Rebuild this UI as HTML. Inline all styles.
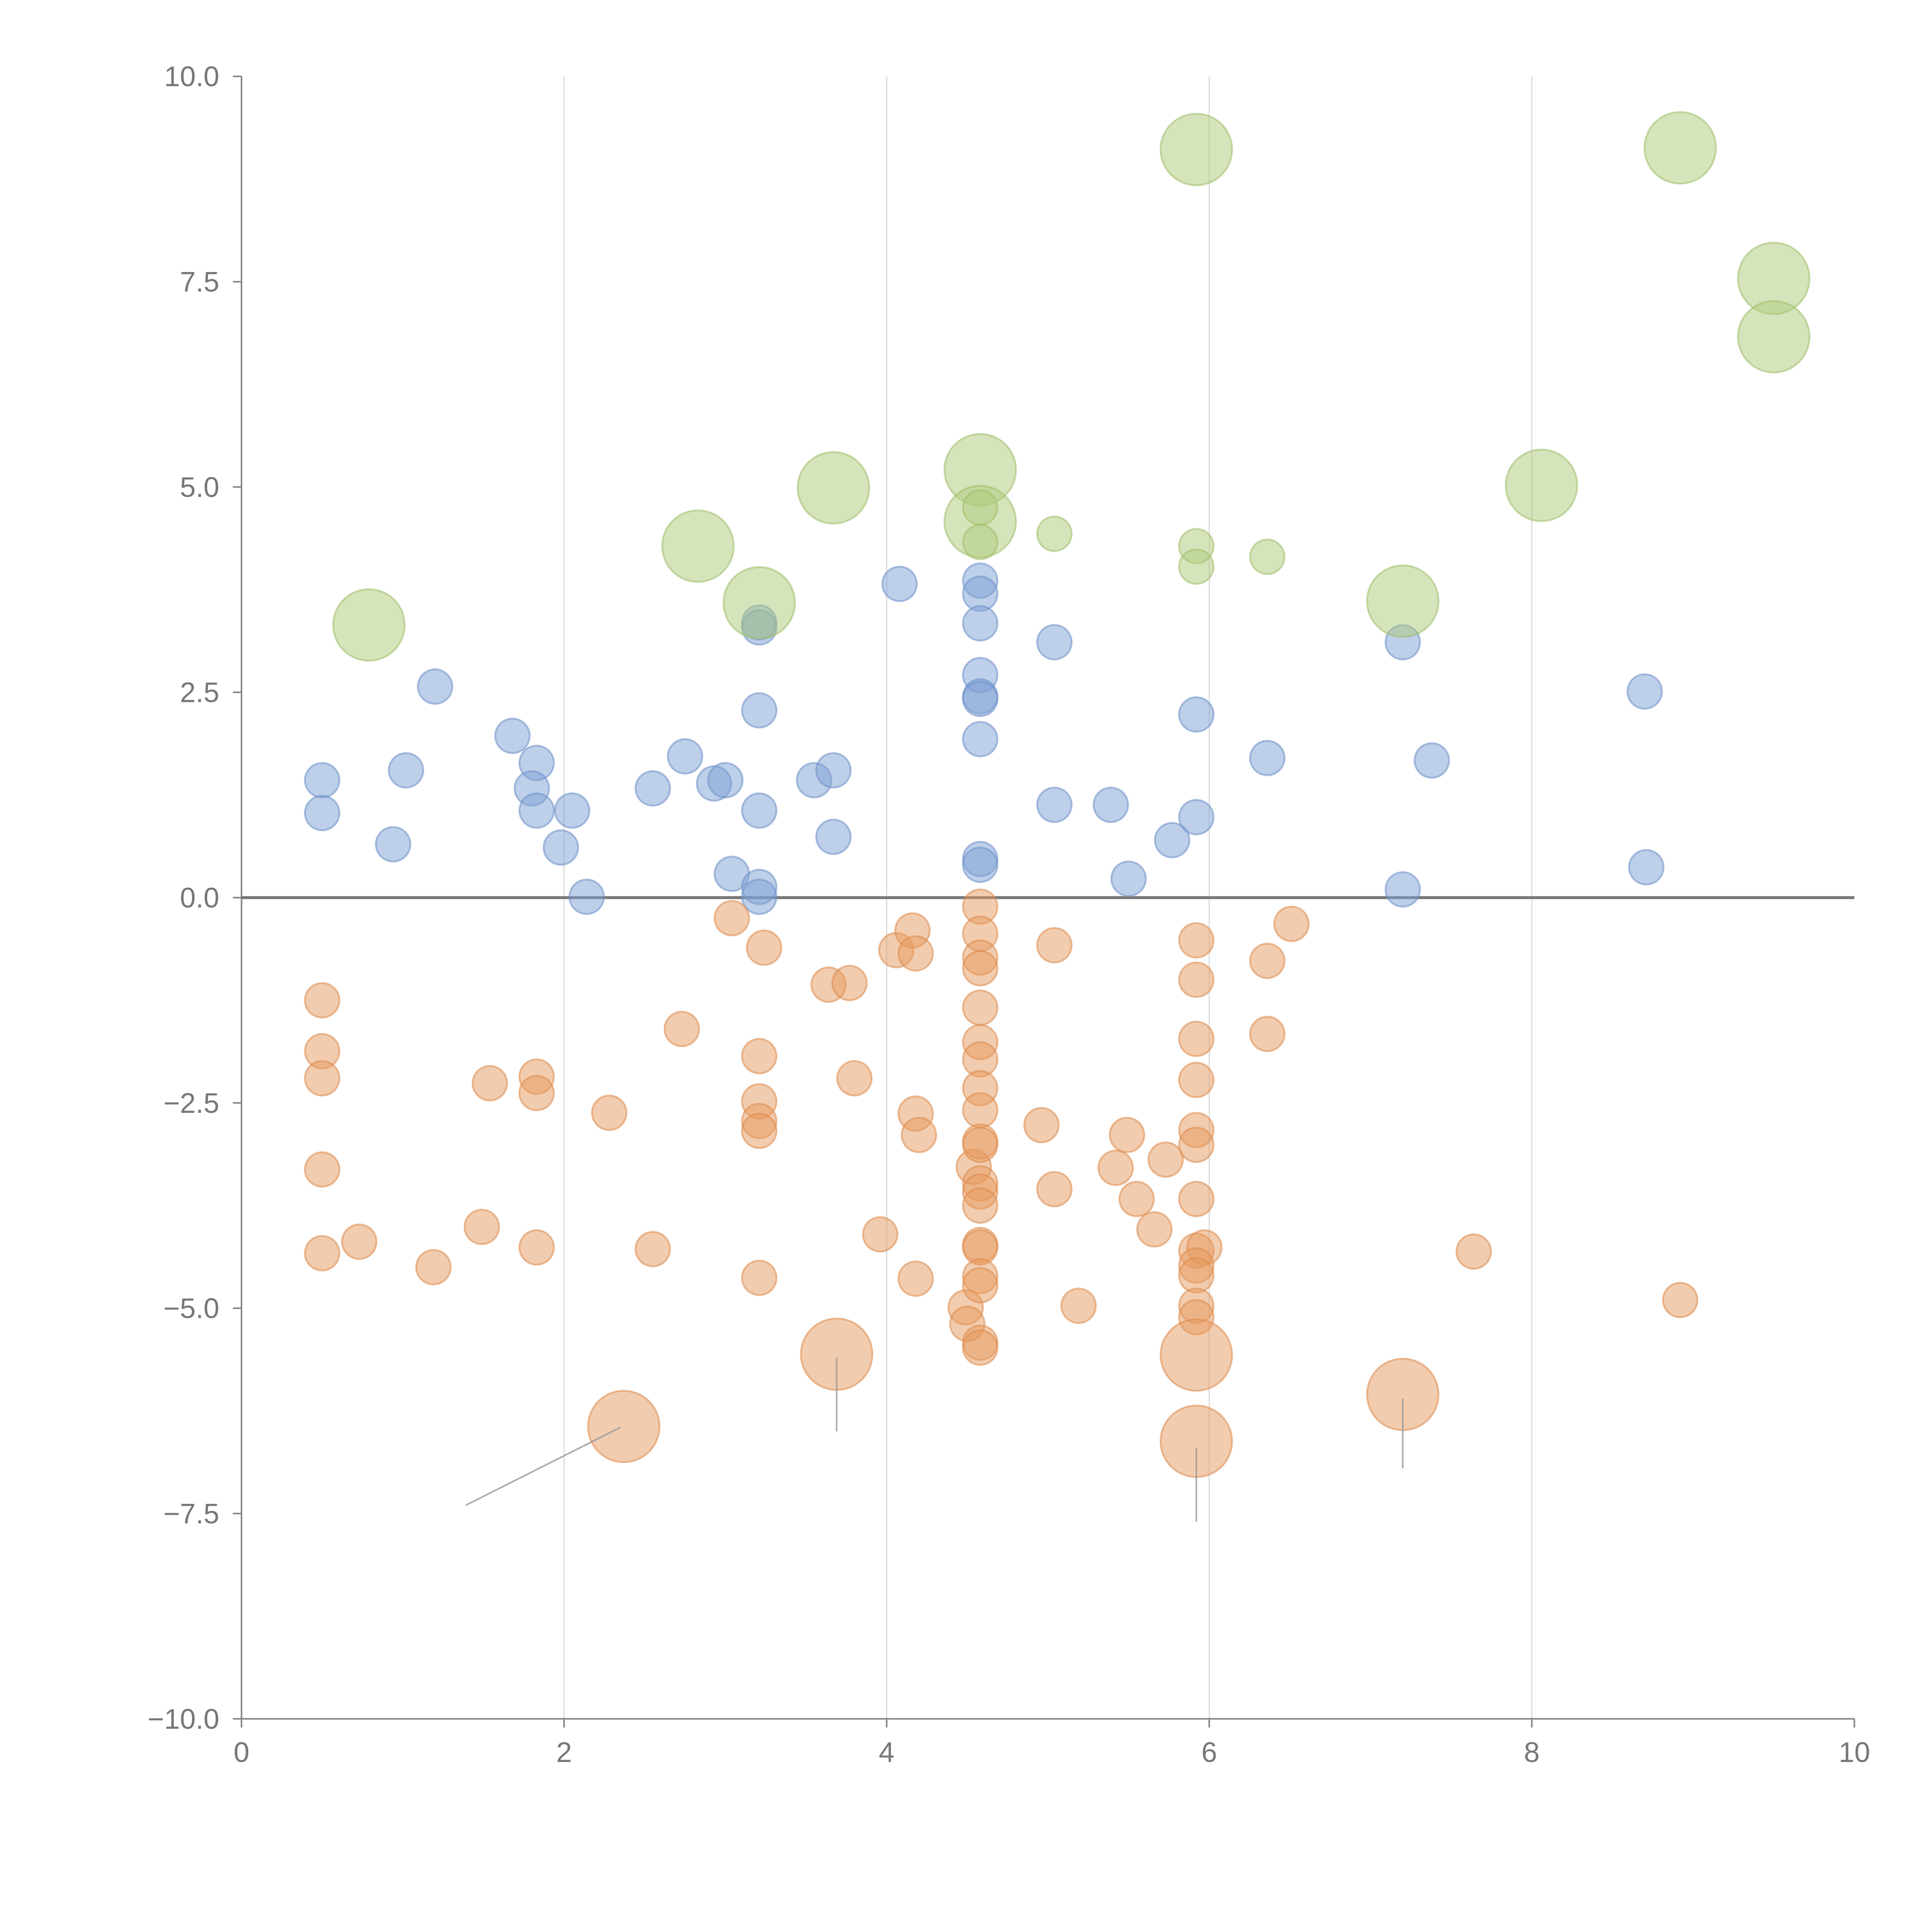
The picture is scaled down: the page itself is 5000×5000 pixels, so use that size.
<!DOCTYPE html>
<html><head><meta charset="utf-8"><style>
html,body{margin:0;padding:0;background:#fff;}
svg{display:block;}
text{font-family:"Liberation Sans",Arial,sans-serif;fill:#777;}
</style></head>
<body>
<svg id="chart" width="5000" height="5000" viewBox="0 0 1568 1568" xmlns="http://www.w3.org/2000/svg">
<g id="grid"></g>
<g id="axes"></g>
<g id="marks"></g>
<g id="leaders"></g>
</svg>
<script>
const xTicks=[0,2,4,6,8,10];
const yTicks=[-10,-7.5,-5,-2.5,0,2.5,5,7.5,10];
const yTickLabels=["\u221210.0","\u22127.5","\u22125.0","\u22122.5","0.0","2.5","5.0","7.5","10.0"];
const blueX=[0.50,0.50,0.94,1.02,1.20,1.68,1.83,1.80,1.83,2.05,1.98,2.14,2.55,2.75,2.93,3.00,3.04,3.21,3.21,3.21,3.21,3.21,3.21,3.55,3.67,3.67,4.08,4.58,4.58,4.58,4.58,4.58,4.58,4.58,4.58,4.58,5.04,5.04,5.39,5.50,5.77,5.92,5.92,6.36,7.20,7.20,7.38,8.70,8.71];
const blueY=[1.43,1.03,0.65,1.55,2.57,1.97,1.64,1.33,1.06,1.06,0.61,0.01,1.33,1.72,1.39,1.43,0.29,3.35,3.29,2.28,1.06,0.13,0.01,1.43,1.55,0.74,3.82,3.86,3.70,3.34,2.71,2.45,2.42,1.93,0.47,0.40,3.11,1.13,1.13,0.23,0.70,2.23,0.98,1.70,3.11,0.10,1.67,2.51,0.37];
const orangeX=[0.50,0.50,0.50,0.50,0.50,0.73,1.19,1.49,1.54,1.83,1.83,1.83,2.28,2.55,2.73,3.04,3.24,3.21,3.21,3.21,3.21,3.21,3.64,3.77,3.80,3.96,4.06,4.16,4.18,4.18,4.20,4.18,4.49,4.50,4.54,4.58,4.58,4.58,4.58,4.58,4.58,4.58,4.58,4.58,4.58,4.58,4.58,4.58,4.58,4.58,4.58,4.58,4.58,4.58,4.58,4.96,5.04,5.04,5.19,5.42,5.49,5.55,5.66,5.73,5.92,5.92,5.92,5.92,5.92,5.92,5.92,5.92,5.97,5.92,5.92,5.92,5.92,6.36,6.36,6.51,7.64,8.92];
const orangeY=[-1.25,-1.87,-2.20,-3.31,-4.33,-4.19,-4.50,-4.01,-2.26,-2.18,-2.38,-4.26,-2.62,-4.28,-1.60,-0.25,-0.61,-1.93,-2.48,-2.72,-2.84,-4.63,-1.06,-1.04,-2.20,-4.10,-0.64,-0.40,-0.68,-2.63,-2.89,-4.64,-4.99,-5.19,-3.28,-0.11,-0.44,-0.73,-0.86,-1.34,-1.76,-1.97,-2.32,-2.59,-2.97,-3.01,-3.48,-3.58,-3.75,-4.23,-4.26,-4.61,-4.72,-5.42,-5.48,-2.77,-0.58,-3.55,-4.97,-3.29,-2.89,-3.67,-4.04,-3.19,-0.52,-1.00,-1.72,-2.22,-2.83,-3.01,-3.67,-4.30,-4.26,-4.48,-4.60,-4.97,-5.11,-0.77,-1.66,-0.32,-4.31,-4.90];
const orangeBigX=[2.37,3.69,5.92,5.92,7.20];
const orangeBigY=[-6.44,-5.56,-5.57,-6.62,-6.05];
const greenBigX=[0.79,2.83,3.21,3.67,4.58,4.58,5.92,7.20,8.06,8.92,9.50,9.50];
const greenBigY=[3.32,4.28,3.59,4.99,5.21,4.58,9.11,3.61,5.02,9.13,7.54,6.83];
const greenSmallX=[4.58,4.58,5.04,5.92,5.92,6.36];
const greenSmallY=[4.75,4.33,4.43,4.28,4.03,4.15];

const X0=196,X1=1505,Y0=1395,Y1=62;
function sx(v){return X0+(v-0)/(10-0)*(X1-X0);}
function sy(v){return Y0-(v+10)/20*(Y0-Y1);}
const NS="http://www.w3.org/2000/svg";
function mk(tag,parent,attrs){const e=document.createElementNS(NS,tag);for(const k in attrs)e.setAttribute(k,attrs[k]);parent.appendChild(e);return e;}
const grid=document.getElementById('grid'),axes=document.getElementById('axes'),marks=document.getElementById('marks'),leaders=document.getElementById('leaders');

xTicks.forEach(t=>{
  if(t>0&&t<10){const g=mk('line',grid,{x1:sx(t),x2:sx(t),y1:Y1,y2:Y0,stroke:'#dcdcdc','stroke-width':1});
  
  }
  const tk=mk('line',axes,{x1:sx(t),x2:sx(t),y1:Y0,y2:Y0+7,stroke:'#888','stroke-width':1.3});
  
  
  const lb=mk('text',axes,{x:sx(t),y:Y0+35,'text-anchor':'middle','font-size':23});
  lb.textContent=String(t);
  
  
});
yTicks.forEach((t,i)=>{
  const tk=mk('line',axes,{x1:X0-7,x2:X0,y1:sy(t),y2:sy(t),stroke:'#888','stroke-width':1.3});
  
  
  const lb=mk('text',axes,{x:X0-18,y:sy(t)+8,'text-anchor':'end','font-size':23});
  lb.textContent=yTickLabels[i];
  
  
});
const ya=mk('line',axes,{x1:X0,x2:X0,y1:Y1,y2:Y0,stroke:'#888','stroke-width':1.3});


const xa=mk('line',axes,{x1:X0,x2:X1,y1:Y0,y2:Y0,stroke:'#888','stroke-width':1.3});


const zl=mk('line',axes,{x1:X0,x2:X1,y1:sy(0),y2:sy(0),stroke:'#777','stroke-width':2.4});



function series(xs,ys,r,fill,stroke,name){
  xs.forEach((x,i)=>{
    const c=mk('circle',marks,{cx:sx(x),cy:sy(ys[i]),r:r,fill:fill,'fill-opacity':0.5,stroke:stroke,'stroke-opacity':0.55,'stroke-width':1.5});
    
    
  });
}
series(blueX,blueY,14,'#7d9fd3','#6b8fc8','blue-point');
series(orangeX,orangeY,14,'#e59a5e','#dd8a4c','orange-point');
series(orangeBigX,orangeBigY,29,'#e59a5e','#dd8a4c','orange-large-point');
series(greenBigX,greenBigY,29,'#adc97a','#9fbd68','green-large-point');
series(greenSmallX,greenSmallY,14,'#adc97a','#9fbd68','green-point');

const leadFrom=[[1.39,-7.4],[3.69,-5.6],[5.92,-6.7],[7.20,-6.1]];
const leadTo=[[2.35,-6.45],[3.69,-6.5],[5.92,-7.6],[7.20,-6.95]];
leadFrom.forEach((p,i)=>{
  const l=mk('line',leaders,{x1:sx(p[0]),y1:sy(p[1]),x2:sx(leadTo[i][0]),y2:sy(leadTo[i][1]),stroke:'#999','stroke-width':1.3,'stroke-opacity':0.8});
  
  
});
</script>
</body></html>
